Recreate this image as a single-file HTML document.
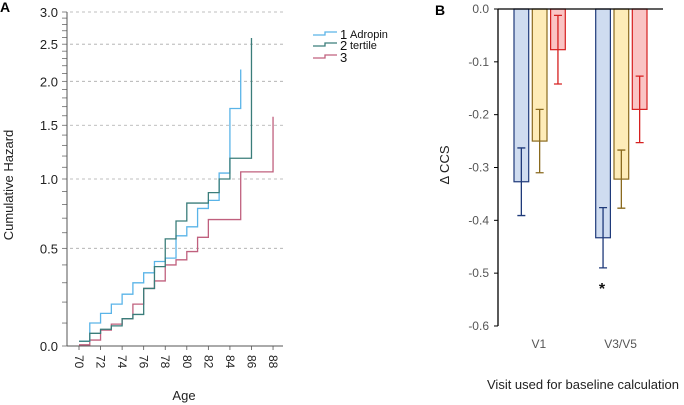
<!DOCTYPE html>
<html><head><meta charset="utf-8"><style>
body{margin:0;background:#fff;}
svg{display:block;font-family:"Liberation Sans",sans-serif;}
</style></head><body>
<svg id="c" width="684" height="405" viewBox="0 0 684 405" xmlns="http://www.w3.org/2000/svg">
<text x="0" y="12" font-size="14" font-weight="bold">A</text>
<text x="435" y="15" font-size="14" font-weight="bold">B</text>
<g id="A"></g>
<g id="B"></g>
</svg>
<script>
// Panel A data
const ages = [70,71,72,73,74,75,76,77,78,79,80,81,82,83,84,85,86,87];
const s1 = [0.02,0.10,0.145,0.19,0.24,0.30,0.355,0.42,0.44,0.58,0.64,0.77,0.83,1.05,1.68];
const s1End = [85, 2.15];
const s2 = [0.02,0.054,0.072,0.087,0.12,0.14,0.27,0.39,0.56,0.68,0.81,0.81,0.89,1.0,1.18,1.18];
const s2End = [86, 2.59];
const s3 = [0.005,0.025,0.068,0.095,0.12,0.19,0.27,0.31,0.40,0.43,0.48,0.57,0.69,0.69,0.69,1.06,1.06,1.06];
const s3End = [88, 1.59];
const yTicksA = [0,0.5,1,1.5,2,2.5,3];
const xTicksA = [70,72,74,76,78,80,82,84,86,88];
// Panel B data
const groups = ["V1","V3/V5"];
const tert1 = [-0.327,-0.433];
const tert1Err = [0.064,0.057];
const tert2 = [-0.25,-0.322];
const tert2Err = [0.06,0.055];
const tert3 = [-0.077,-0.19];
const tert3Err = [0.065,0.063];
const yTicksB = [0,-0.1,-0.2,-0.3,-0.4,-0.5,-0.6];

const NS="http://www.w3.org/2000/svg";
function mk(p,t,a,txt){const e=document.createElementNS(NS,t);for(const k in a)e.setAttribute(k,a[k]);if(txt!=null)e.textContent=txt;p.appendChild(e);return e;}
const A=document.getElementById('A'), B=document.getElementById('B');
const xA=a=>79+(a-70)*10.78;
const yA=h=>346-Math.log(1+h)/Math.LN2*167;
yTicksA.forEach(v=>{
  if(v>0){const g=mk(A,'line',{x1:70,x2:283,y1:yA(v),y2:yA(v),stroke:'#aaa','stroke-dasharray':'3,3','stroke-width':0.8});
  
  }
  const t=mk(A,'text',{x:58,y:yA(v)+5,'font-size':13,'text-anchor':'end',fill:'#222'},v.toFixed(1));
  
  
});
for(let v=0;v<=3.0001;v+=0.1){mk(A,'line',{x1:62,x2:67,y1:yA(v),y2:yA(v),stroke:'#555','stroke-width':0.7});}
mk(A,'line',{x1:67,x2:67,y1:12,y2:346,stroke:'#555','stroke-width':1});
mk(A,'line',{x1:67,x2:283,y1:346,y2:346,stroke:'#555','stroke-width':1});
xTicksA.forEach(v=>{
  mk(A,'line',{x1:xA(v),x2:xA(v),y1:346,y2:350,stroke:'#555','stroke-width':0.8});
  const t=mk(A,'text',{x:0,y:0,'font-size':12,fill:'#222',transform:`translate(${xA(v)-4},355) rotate(90)`},v);
  
  
});
function step(vals,end,color,name){
  let d=`M${xA(ages[0])},${yA(vals[0])}`;
  for(let i=1;i<vals.length;i++){d+=`H${xA(ages[i])}V${yA(vals[i])}`;}
  d+=`H${xA(end[0])}V${yA(end[1])}`;
  const p=mk(A,'path',{d:d,fill:'none',stroke:color,'stroke-width':1.3});
  
  
}
step(s3,s3End,'#c0607e','series-tertile-3');
step(s1,s1End,'#5ab4e8','series-tertile-1');
step(s2,s2End,'#3a7d7a','series-tertile-2');
const at=mk(A,'text',{x:184,y:400,'font-size':13,'text-anchor':'middle',fill:'#222'},'Age');

const yt=mk(A,'text',{x:0,y:0,'font-size':13,'text-anchor':'middle',fill:'#222',transform:'translate(13,185) rotate(-90)'},'Cumulative Hazard');

[['#5ab4e8',35,'1','Adropin'],['#3a7d7a',46,'2','tertile'],['#c0607e',58,'3','']].forEach(l=>{
  const g=mk(A,'g',{});
  
  
  mk(g,'path',{d:`M313,${l[1]}H325V${l[1]-3}H337`,fill:'none',stroke:l[0],'stroke-width':1.3});
  mk(g,'text',{x:340,y:l[1]+4,'font-size':13,fill:'#111'},l[2]);
  if(l[3])mk(g,'text',{x:350,y:l[1]+3,'font-size':11,fill:'#111'},l[3]);
});
// Panel B
const yB=v=>9-v*528.3;
const gx=[514,595.7], bw=14.7, gap=18.3;
yTicksB.forEach(v=>{
  mk(B,'line',{x1:494,x2:498,y1:yB(v),y2:yB(v),stroke:'#000','stroke-width':1});
  const t=mk(B,'text',{x:489,y:yB(v)+4,'font-size':12,'text-anchor':'end',fill:'#555'},v.toFixed(1));
  
  
});
const series=[[tert1,tert1Err,'#cfdcf0','#1f3a7a'],[tert2,tert2Err,'#feecb8','#8a6a1e'],[tert3,tert3Err,'#fac4c4','#d62020']];
groups.forEach((g,i)=>{
  series.forEach((s,j)=>{
    const x=gx[i]+j*gap, v=s[0][i], e=s[1][i], cx=x+bw/2;
    const r=mk(B,'rect',{x:x,y:yB(0),width:bw,height:yB(v)-yB(0),fill:s[2],stroke:s[3],'stroke-width':1.2});
    
    
    const eb=mk(B,'path',{d:`M${cx},${yB(v+e)}V${yB(v-e)}M${cx-4},${yB(v+e)}H${cx+4}M${cx-4},${yB(v-e)}H${cx+4}`,stroke:s[3],'stroke-width':1.3,fill:'none'});
    
    
  });
  const t=mk(B,'text',{x:gx[i]+bw+gap/2+1,y:348,'font-size':12,'text-anchor':'middle',fill:'#555'},g);
  
  
});
mk(B,'line',{x1:498,x2:498,y1:9,y2:yB(-0.6),stroke:'#000','stroke-width':1.3});
mk(B,'line',{x1:498,x2:663,y1:9,y2:9,stroke:'#000','stroke-width':1.3});
const st=mk(B,'text',{x:602,y:294,'font-size':16,'font-weight':'bold','text-anchor':'middle',fill:'#111'},'*');

const bt=mk(B,'text',{x:583,y:389,'font-size':13,'text-anchor':'middle',fill:'#222'},'Visit used for baseline calculation');

const by=mk(B,'text',{x:0,y:0,'font-size':13,'text-anchor':'middle',fill:'#222',transform:'translate(449,165) rotate(-90)'},'Δ CCS');

</script>
</body></html>
